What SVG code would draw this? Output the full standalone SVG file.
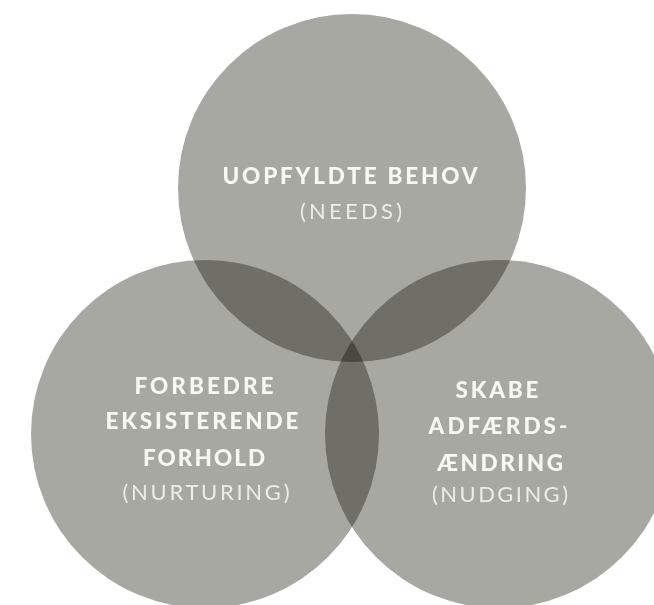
<svg xmlns="http://www.w3.org/2000/svg" width="654" height="605" viewBox="0 0 654 605">
<style>
.c{fill:#a8a8a3;mix-blend-mode:multiply}
.b{font-family:Lato,"Open Sans","Liberation Sans",sans-serif;font-weight:900;font-size:22.5px;fill:#f7f7f3;text-anchor:middle}
.r{font-family:Lato,"Open Sans","Liberation Sans",sans-serif;font-weight:400;font-size:22px;fill:#ecece8;text-anchor:middle}
</style>
<rect width="654" height="605" fill="#ffffff"/>
<g id="circles" style="isolation:isolate">
<circle class="c" cx="352" cy="188" r="174"/>
<circle class="c" cx="205" cy="434" r="174"/>
<circle class="c" cx="499" cy="434" r="174"/>
</g>
<g id="needs">
<text class="b" x="350" y="184" textLength="255" lengthAdjust="spacing">UOPFYLDTE BEHOV</text>
<text class="r" x="351" y="219" textLength="102" lengthAdjust="spacing">(NEEDS)</text>
</g>
<g id="nurturing">
<text class="b" x="204" y="394" textLength="139" lengthAdjust="spacing">FORBEDRE</text>
<text class="b" x="202" y="429" textLength="193" lengthAdjust="spacing">EKSISTERENDE</text>
<text class="b" x="204" y="466" textLength="122" lengthAdjust="spacing">FORHOLD</text>
<text class="r" x="206" y="500" textLength="167" lengthAdjust="spacing">(NURTURING)</text>
</g>
<g id="nudging">
<text class="b" x="497" y="398" textLength="83" lengthAdjust="spacing">SKABE</text>
<text class="b" x="498" y="434" textLength="139" lengthAdjust="spacing">ADFÆRDS-</text>
<text class="b" x="500" y="471" textLength="126" lengthAdjust="spacing">ÆNDRING</text>
<text class="r" x="500" y="502" textLength="136" lengthAdjust="spacing">(NUDGING)</text>
</g>
</svg>
